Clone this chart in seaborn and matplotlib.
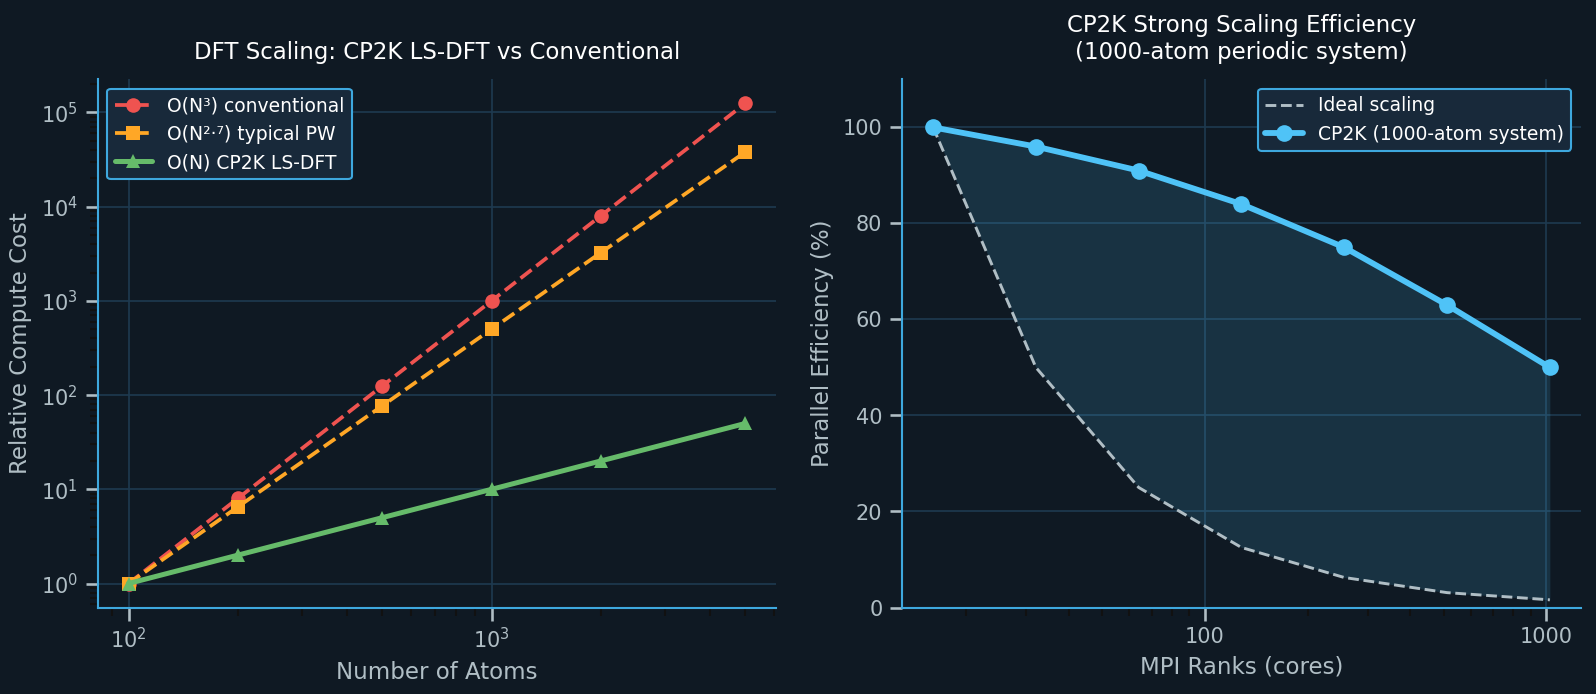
import numpy as np
import pandas as pd
import matplotlib
matplotlib.use("Agg")
import matplotlib.pyplot as plt
from matplotlib.ticker import ScalarFormatter
import seaborn as sns

# data
atoms = [100, 200, 500, 1000, 2000, 5000]
cost_n3 = [1, 8, 125, 1000, 8000, 125000]
cost_n27 = [1, 6.5, 77, 501, 3250, 38000]
cost_on = [1, 2, 5, 10, 20, 50]

ranks = [16, 32, 64, 128, 256, 512, 1024]
eff_ideal = [100, 50, 25, 12.5, 6.25, 3.1, 1.6]
eff_cp2k = [100, 96, 91, 84, 75, 63, 50]

BG = "#0f1923"
SPINE = "#3ea8de"
TXT = "#b0bec5"
GRID = "#1e3a50"

sns.set_theme(style="dark")
plt.rcParams.update({
    "figure.facecolor": BG,
    "axes.facecolor": BG,
    "axes.edgecolor": SPINE,
    "axes.labelcolor": TXT,
    "xtick.color": TXT,
    "ytick.color": TXT,
    "text.color": "white",
    "axes.grid": True,
    "grid.color": GRID,
    "grid.linewidth": 0.8,
    "xtick.bottom": True,
    "ytick.left": True,
})
plt.rcParams["font.family"] = ["DejaVu Sans"]

fig, (ax1, ax2) = plt.subplots(1, 2, figsize=(10.64, 4.627), dpi=150)
fig.subplots_adjust(left=0.0612, right=0.9904, bottom=0.1246, top=0.8856, wspace=0.186)

# ---- left panel: scaling cost ----
sns.lineplot(x=atoms, y=cost_n3, ax=ax1, color="#ef5350", linestyle="--", linewidth=1.8,
             marker="o", markersize=7, markeredgewidth=0, label="O(N³) conventional")
sns.lineplot(x=atoms, y=cost_n27, ax=ax1, color="#ffa726", linestyle="--", linewidth=1.8,
             marker="s", markersize=7, markeredgewidth=0, label="O(N²·⁷) typical PW")
sns.lineplot(x=atoms, y=cost_on, ax=ax1, color="#66bb6a", linestyle="-", linewidth=2.4,
             marker="^", markersize=7, markeredgewidth=0, label="O(N) CP2K LS-DFT")
ax1.set_xscale("log")
ax1.set_yscale("log")
ax1.set_xlabel("Number of Atoms", fontsize=11)
ax1.set_ylabel("Relative Compute Cost", fontsize=11)
ax1.set_title("DFT Scaling: CP2K LS-DFT vs Conventional", fontsize=11, color="white", pad=10)
ax1.grid(True, which="major", color=GRID)
ax1.grid(False, which="minor")

# ---- right panel: strong scaling ----
sns.lineplot(x=ranks, y=eff_ideal, ax=ax2, color=TXT, linestyle="--", linewidth=1.4,
             label="Ideal scaling")
sns.lineplot(x=ranks, y=eff_cp2k, ax=ax2, color="#4fc3f7", linestyle="-", linewidth=2.8,
             marker="o", markersize=8, markeredgewidth=0, label="CP2K (1000-atom system)")
ax2.fill_between(ranks, eff_ideal, eff_cp2k, color="#4fc3f7", alpha=0.15, linewidth=0)
ax2.set_xscale("log")
ax2.xaxis.set_major_formatter(ScalarFormatter())
ax2.set_ylim(0, 110)
ax2.set_xlabel("MPI Ranks (cores)", fontsize=11)
ax2.set_ylabel("Parallel Efficiency (%)", fontsize=11)
ax2.set_title("CP2K Strong Scaling Efficiency\n(1000-atom periodic system)",
              fontsize=11, color="white", pad=10)
ax2.grid(True, which="major", color=GRID)
ax2.grid(False, which="minor")

for ax in (ax1, ax2):
    for side in ("top", "right"):
        ax.spines[side].set_visible(False)
    for side in ("left", "bottom"):
        ax.spines[side].set_color(SPINE)
        ax.spines[side].set_linewidth(1.0)
    ax.tick_params(labelsize=10, colors=TXT)
    ax.tick_params(which="minor", colors="#111111")

leg1 = ax1.legend(loc="upper left", fontsize=9, facecolor="#18293a", edgecolor=SPINE,
                  framealpha=1, labelcolor="white")
leg2 = ax2.legend(loc="upper right", fontsize=9, facecolor="#18293a", edgecolor=SPINE,
                  framealpha=1, labelcolor="white")

fig.savefig("out.png", dpi=150, facecolor=BG)
